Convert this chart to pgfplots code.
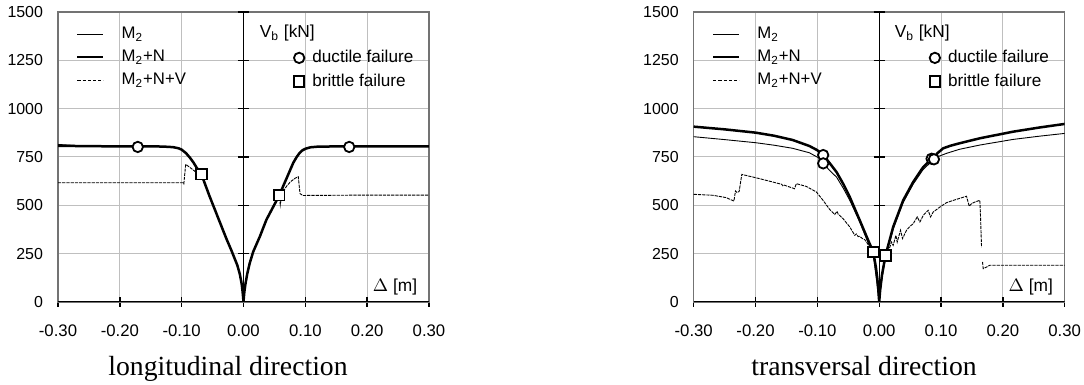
\documentclass[border=0pt]{standalone}
\usepackage{fontspec}
\setmainfont{Liberation Sans}
\newfontfamily\seriffont{Liberation Serif}
\usepackage{pgfplots}
\pgfplotsset{compat=1.18}

\pgfplotsset{
  myaxis/.style={
    scale only axis, width=185.5bp, height=145bp, anchor=south west,
    xmin=-0.3, xmax=0.3, ymin=0, ymax=1500,
    xtick={-0.3,-0.2,-0.1,0,0.1,0.2,0.3},
    xticklabels={-0.30,-0.20,-0.10,0.00,0.10,0.20,0.30},
    ytick={0,250,500,750,1000,1250,1500},
    yticklabels={0,250,500,750,1000,1250,1500},
    grid=major, major grid style={line width=0.5bp, black!25},
    axis line style={line width=0.6bp, black!55},
    xtick pos=left, xtick align=center, major tick length=4.6bp,
    xtick style={black, line width=0.7bp},
    ytick style={draw=none},
    xticklabel style={font=\fontsize{8.4}{10}\selectfont, yshift=-5.5bp},
    yticklabel style={font=\fontsize{8}{10}\selectfont, xshift=-4bp},
    legend cell align=left,
  },
  thickc/.style={black, line width=1.25bp},
  thinc/.style={black, line width=0.45bp},
  dashc/.style={black, line width=0.45bp, dash pattern=on 1.6bp off 0.5bp},
  circ/.style={only marks, mark=*, mark size=2.6bp, mark options={fill=white, draw=black, line width=0.9bp, solid}},
  sqr/.style={only marks, mark=square*, mark size=2.6bp, mark options={fill=white, draw=black, line width=0.9bp, solid}},
  leg1/.style={
    legend style={draw=none, fill=none, at={(0.048,0.952)}, anchor=north west,
      font=\fontsize{8.4}{10}\selectfont, row sep=3.7bp, inner sep=0bp,
      nodes={inner sep=0bp, text height=6.2bp, text depth=1.6bp},
      /tikz/every odd column/.append style={column sep=8.5bp}},
    legend image code/.code={\draw[##1] (0bp,0bp) -- (13bp,0bp);},
  },
  leg2/.style={
    hide axis, legend style={draw=none, fill=none, at={(0.635,0.87)}, anchor=north west,
      font=\fontsize{8.6}{10}\selectfont, row sep=4bp, inner sep=0bp,
      nodes={inner sep=0bp, text height=6.2bp, text depth=1.6bp},
      /tikz/every odd column/.append style={column sep=4bp}},
    legend image code/.code={\draw[##1] plot coordinates {(0bp,0bp)};},
  },
}

\begin{document}
\begin{tikzpicture}
\useasboundingbox (0,0) rectangle (542bp,192.5bp);

% ---------------- longitudinal ----------------
\begin{axis}[myaxis, at={(29bp,41.5bp)}, leg1]
\addlegendimage{thinc}\addlegendentry{M\textsubscript{2}}
\addlegendimage{thickc}\addlegendentry{M\textsubscript{2}+N}
\addlegendimage{thinc, dash pattern=on 1.6bp off 1bp}\addlegendentry{M\textsubscript{2}+N+V}

% M2+N+V
\addplot[dashc, forget plot] coordinates {
(-0.300,617) (-0.200,617) (-0.098,617) (-0.0965,611) (-0.0935,712) (-0.090,704) (-0.085,692) (-0.077,672) (-0.068,660)
(-0.055,548) (-0.041,435) (-0.028,330) (-0.020,270) (-0.014,222) (-0.010,190) (-0.006,145) (-0.003,95) (-0.0015,55) (-0.0005,20) (0,0)
(0.0005,22) (0.0015,55) (0.003,90) (0.006,145) (0.010,200) (0.0157,260) (0.0265,339) (0.037,425) (0.048,492) (0.058,552)
(0.0595,503) (0.062,560) (0.0697,599) (0.076,622) (0.083,639) (0.0886,648) (0.0914,561) (0.0957,551) (0.200,553) (0.300,553)};
% M2
\addplot[thinc, forget plot] coordinates {
(-0.300,815) (-0.270,809) (-0.200,806) (-0.150,805) (-0.130,804) (-0.114,801) (-0.105,795) (-0.100,788) (-0.093,770) (-0.087,748) (-0.081,722) (-0.076,696) (-0.068,660)
(-0.055,548) (-0.041,435) (-0.028,330) (-0.020,270) (-0.014,222) (-0.010,190) (-0.006,145) (-0.003,95) (-0.0015,55) (-0.0005,20) (0,0)
(0.0005,22) (0.0015,55) (0.003,90) (0.006,145) (0.010,200) (0.0157,260) (0.0265,339) (0.037,425) (0.048,492) (0.058,552)
(0.064,598) (0.070,642) (0.0805,720) (0.086,750) (0.091,772) (0.0955,785) (0.1005,793) (0.108,800) (0.118,803) (0.150,805) (0.200,805) (0.300,806)};
% M2+N
\addplot[thickc, forget plot] coordinates {
(-0.300,808) (-0.250,806) (-0.200,805) (-0.150,805) (-0.130,804) (-0.114,801) (-0.105,795) (-0.100,788) (-0.093,770) (-0.087,748) (-0.081,722) (-0.076,696) (-0.068,660)
(-0.055,548) (-0.041,435) (-0.028,330) (-0.020,270) (-0.014,222) (-0.010,190) (-0.006,145) (-0.003,95) (-0.0015,55) (-0.0005,20) (0,0)
(0.0005,22) (0.0015,55) (0.003,90) (0.006,145) (0.010,200) (0.0157,260) (0.0265,339) (0.037,425) (0.048,492) (0.058,552)
(0.064,598) (0.070,642) (0.0805,720) (0.086,750) (0.091,772) (0.0955,785) (0.1005,793) (0.108,800) (0.118,803) (0.150,805) (0.200,805) (0.300,805)};

\draw[black, line width=1.1bp] (rel axis cs:0,0) -- (rel axis cs:1,0);
\draw[black, line width=0.6bp] (axis cs:0,0) -- (axis cs:0,1500);
\pgfplotsinvokeforeach{250,500,750,1000,1250,1500}{
  \draw[black, line width=0.6bp] ([xshift=-2.8bp]axis cs:0,#1) -- ([xshift=2.8bp]axis cs:0,#1);}

\addplot[circ, forget plot] coordinates {(-0.171,802) (0.171,802)};
\addplot[sqr, forget plot] coordinates {(-0.068,660) (0.058,552)};

\node[anchor=base west, font=\fontsize{8.7}{10}\selectfont] at (rel axis cs:0.525,0.912) {V\textsubscript{b} [kN]};
\node[anchor=base east, font=\fontsize{8.7}{10}\selectfont] at (rel axis cs:0.987,0.036) {$\Delta$ [m]};
\end{axis}
\begin{axis}[myaxis, at={(29bp,41.5bp)}, leg2]
\addlegendimage{circ}\addlegendentry{ductile failure}
\addlegendimage{sqr}\addlegendentry{brittle failure}
\end{axis}

% ---------------- transversal ----------------
\begin{axis}[myaxis, at={(346.85bp,41.5bp)}, leg1]
\addlegendimage{thinc}\addlegendentry{M\textsubscript{2}}
\addlegendimage{thickc}\addlegendentry{M\textsubscript{2}+N}
\addlegendimage{thinc, dash pattern=on 1.6bp off 1bp}\addlegendentry{M\textsubscript{2}+N+V}

% M2+N+V
\addplot[dashc, forget plot] coordinates {
(-0.3000,557) (-0.269,552) (-0.2476,540) (-0.235,522) (-0.2324,574) (-0.2297,566) (-0.2265,572) (-0.2222,660)
(-0.1935,638) (-0.158,609) (-0.156,602) (-0.155,606) (-0.137,586) (-0.134,612) (-0.118,598) (-0.1016,569)
(-0.0908,526) (-0.080,478) (-0.0719,453) (-0.068,469) (-0.0665,455) (-0.0584,431) (-0.0476,388) (-0.0395,345)
(-0.0368,352) (-0.034,338) (-0.0314,340) (-0.028,330) (-0.0232,322) (-0.0151,284) (-0.0097,259)
(-0.0054,181) (-0.003,120) (-0.0016,70) (0,0) (0.0015,60) (0.0045,140) (0.0102,241)
(0.0173,284) (0.0199,310) (0.0226,293) (0.027,345) (0.0291,310) (0.0345,371) (0.0377,328) (0.0442,371)
(0.0496,391) (0.055,405) (0.0615,440) (0.0658,414) (0.0712,448) (0.0792,474) (0.083,440) (0.0873,465)
(0.0981,491) (0.1089,514) (0.1251,531) (0.1412,547) (0.1456,495) (0.1493,509) (0.1547,517) (0.1628,526)
(0.1639,440) (0.1655,284)};
\addplot[dashc, forget plot] coordinates {
(0.1671,207) (0.1682,172) (0.1736,181) (0.179,190) (0.300,190)};
% M2
\addplot[thinc, forget plot] coordinates {
(-0.300,855) (-0.250,840) (-0.200,824) (-0.170,811) (-0.140,795) (-0.113,772) (-0.0964,743) (-0.0906,717)
(-0.080,680) (-0.069,646) (-0.058,588) (-0.0476,526) (-0.0314,414) (-0.0178,305) (-0.0097,250) (-0.007,180)
(-0.004,105) (-0.0015,40) (0,0)
(0.0015,50) (0.004,110) (0.0102,232) (0.0226,378) (0.0388,515) (0.055,610) (0.0712,686) (0.0885,738)
(0.095,752) (0.109,769) (0.130,790) (0.163,812) (0.2167,841) (0.260,858) (0.300,872)};
% M2+N
\addplot[thickc, forget plot] coordinates {
(-0.300,907) (-0.250,893) (-0.200,876) (-0.170,860) (-0.140,838) (-0.113,807) (-0.100,785) (-0.0906,760)
(-0.080,718) (-0.069,672) (-0.058,610) (-0.0476,543) (-0.0314,422) (-0.0178,319) (-0.0097,259) (-0.0054,181)
(-0.003,120) (-0.0016,70) (0,0)
(0.0015,60) (0.0045,140) (0.0102,241) (0.0226,388) (0.0388,526) (0.055,621) (0.0712,698) (0.0847,741)
(0.090,755) (0.095,772) (0.1035,795) (0.115,808) (0.130,821) (0.163,847) (0.2167,881) (0.260,903) (0.300,921)};

\draw[black, line width=1.1bp] (rel axis cs:0,0) -- (rel axis cs:1,0);
\draw[black, line width=0.6bp] (axis cs:0,0) -- (axis cs:0,1500);
\pgfplotsinvokeforeach{250,500,750,1000,1250,1500}{
  \draw[black, line width=0.6bp] ([xshift=-2.8bp]axis cs:0,#1) -- ([xshift=2.8bp]axis cs:0,#1);}

\addplot[circ, forget plot] coordinates {(-0.0906,760) (-0.0906,717) (0.0847,741) (0.0885,738)};
\addplot[sqr, forget plot] coordinates {(-0.0097,259) (0.0102,241)};

\node[anchor=base west, font=\fontsize{8.7}{10}\selectfont] at (rel axis cs:0.523,0.912) {V\textsubscript{b} [kN]};
\node[anchor=base east, font=\fontsize{8.7}{10}\selectfont] at (rel axis cs:0.987,0.036) {$\Delta$ [m]};
\end{axis}
\begin{axis}[myaxis, at={(346.85bp,41.5bp)}, leg2]
\addlegendimage{circ}\addlegendentry{ductile failure}
\addlegendimage{sqr}\addlegendentry{brittle failure}
\end{axis}

\node[anchor=base, font=\seriffont\fontsize{13.9}{16}\selectfont] at (114bp,5bp) {longitudinal direction};
\node[anchor=base, font=\seriffont\fontsize{13.9}{16}\selectfont] at (432bp,5bp) {transversal direction};
\end{tikzpicture}
\end{document}
